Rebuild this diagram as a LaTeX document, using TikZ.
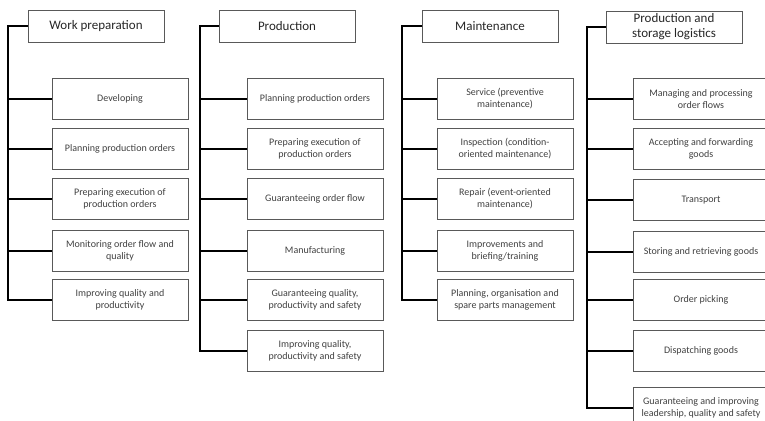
\documentclass[tikz,border=0pt]{standalone}
\usepackage{fontspec}
\setmainfont{Carlito}
\usepackage{xcolor}
\definecolor{boxgray}{RGB}{89, 89, 89}
\definecolor{textgray}{RGB}{64, 64, 64}
\definecolor{headtext}{RGB}{38, 38, 38}

\begin{document}
\begin{tikzpicture}[x=1pt, y=-1pt,
    headbox/.style={draw=boxgray, line width=0.9pt, minimum width=136pt, minimum height=32pt, inner sep=1pt, align=center, text=headtext, font=\fontsize{13}{15}\selectfont},
    taskbox/.style={draw=boxgray, line width=0.9pt, minimum width=136pt, minimum height=41pt, inner sep=1pt, align=center, text=textgray, font=\fontsize{10}{12}\selectfont},
    spine/.style={line width=1.6pt, black}]
    \useasboundingbox (0,0) rectangle (765,420);

    % Work preparation
    \node[headbox] (wp) at (96,26) {Work preparation};
    \node[taskbox] (wp1) at (120,99) {Developing};
    \node[taskbox] (wp2) at (120,149) {Planning production orders};
    \node[taskbox] (wp3) at (120,199) {Preparing execution of\\production orders};
    \node[taskbox] (wp4) at (120,251) {Monitoring order flow and\\quality};
    \node[taskbox] (wp5) at (120,300) {Improving quality and\\productivity};
    \coordinate (wpx) at (8,0);
    \draw[spine] (wp.west) -- (wp.west -| wpx) |- (wp5.west);
    \draw[spine] (wp1.west) -- (wp1.west -| wpx);
    \draw[spine] (wp2.west) -- (wp2.west -| wpx);
    \draw[spine] (wp3.west) -- (wp3.west -| wpx);
    \draw[spine] (wp4.west) -- (wp4.west -| wpx);

    % Production
    \node[headbox] (pr) at (287,26) {Production};
    \node[taskbox] (pr1) at (315,99) {Planning production orders};
    \node[taskbox] (pr2) at (315,149) {Preparing execution of\\production orders};
    \node[taskbox] (pr3) at (315,199) {Guaranteeing order flow};
    \node[taskbox] (pr4) at (315,251) {Manufacturing};
    \node[taskbox] (pr5) at (315,300) {Guaranteeing quality,\\productivity and safety};
    \node[taskbox] (pr6) at (315,351) {Improving quality,\\productivity and safety};
    \coordinate (prx) at (200,0);
    \draw[spine] (pr.west) -- (pr.west -| prx) |- (pr6.west);
    \draw[spine] (pr1.west) -- (pr1.west -| prx);
    \draw[spine] (pr2.west) -- (pr2.west -| prx);
    \draw[spine] (pr3.west) -- (pr3.west -| prx);
    \draw[spine] (pr4.west) -- (pr4.west -| prx);
    \draw[spine] (pr5.west) -- (pr5.west -| prx);

    % Maintenance
    \node[headbox] (mt) at (490,26) {Maintenance};
    \node[taskbox] (mt1) at (505,99) {Service (preventive\\maintenance)};
    \node[taskbox] (mt2) at (505,149) {Inspection (condition-\\oriented maintenance)};
    \node[taskbox] (mt3) at (505,199) {Repair (event-oriented\\maintenance)};
    \node[taskbox] (mt4) at (505,251) {Improvements and\\briefing/training};
    \node[taskbox] (mt5) at (505,300) {Planning, organisation and\\spare parts management};
    \coordinate (mtx) at (402,0);
    \draw[spine] (mt.west) -- (mt.west -| mtx) |- (mt5.west);
    \draw[spine] (mt1.west) -- (mt1.west -| mtx);
    \draw[spine] (mt2.west) -- (mt2.west -| mtx);
    \draw[spine] (mt3.west) -- (mt3.west -| mtx);
    \draw[spine] (mt4.west) -- (mt4.west -| mtx);

    % Production and storage logistics
    \node[headbox] (lg) at (674,27) {Production and\\storage logistics};
    \node[taskbox] (lg1) at (701,99) {Managing and processing\\order flows};
    \node[taskbox] (lg2) at (701,149) {Accepting and forwarding\\goods};
    \node[taskbox] (lg3) at (701,200) {Transport};
    \node[taskbox] (lg4) at (701,252) {Storing and retrieving goods};
    \node[taskbox] (lg5) at (701,300) {Order picking};
    \node[taskbox] (lg6) at (701,351) {Dispatching goods};
    \node[taskbox] (lg7) at (701,408) {Guaranteeing and improving\\leadership, quality and safety};
    \coordinate (lgx) at (587,0);
    \draw[spine] (lg.west) -- (lg.west -| lgx) |- (lg7.west);
    \draw[spine] (lg1.west) -- (lg1.west -| lgx);
    \draw[spine] (lg2.west) -- (lg2.west -| lgx);
    \draw[spine] (lg3.west) -- (lg3.west -| lgx);
    \draw[spine] (lg4.west) -- (lg4.west -| lgx);
    \draw[spine] (lg5.west) -- (lg5.west -| lgx);
    \draw[spine] (lg6.west) -- (lg6.west -| lgx);
\end{tikzpicture}
\end{document}
